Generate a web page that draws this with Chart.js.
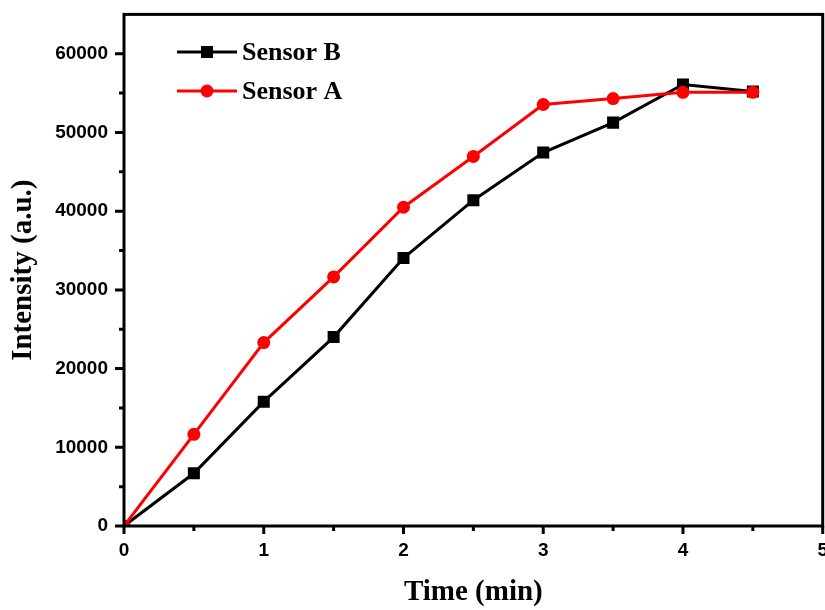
<!DOCTYPE html>
<html>
<head>
<meta charset="utf-8">
<script src="https://cdn.jsdelivr.net/npm/chart.js@4"></script>
<style>
  html, body { margin: 0; padding: 0; background: #fff; overflow: hidden; }
  #wrap { width: 841px; height: 623px; margin-top: -13px; }
</style>
</head>
<body>
<div id="wrap"><canvas id="chart"></canvas></div>
<script>
const times   = [0, 0.5, 1, 1.5, 2, 2.5, 3, 3.5, 4, 4.5];
const sensorB = [0, 6700, 15800, 24000, 34050, 41400, 47450, 51250, 56100, 55200];
const sensorA = [0, 11650, 23300, 31650, 40500, 46950, 53550, 54300, 55100, 55100];
const xTicks  = [0, 1, 2, 3, 4, 5];
const yTicks  = [0, 10000, 20000, 30000, 40000, 50000, 60000];

const pts = (ys) => times.map((t, i) => ({ x: t, y: ys[i] }));

// frame + outward ticks (major/minor)
const framePlugin = {
  id: "frame",
  afterDraw(chart) {
    const { ctx, chartArea: a, scales: { x, y } } = chart;
    ctx.save();
    ctx.strokeStyle = "#000";
    ctx.lineWidth = 3;
    ctx.strokeRect(a.left, a.top, a.right - a.left, a.bottom - a.top);
    ctx.beginPath();
    x.ticks.forEach(t => {
      const px = x.getPixelForValue(t.value);
      const len = xTicks.includes(t.value) ? 8 : 5;
      ctx.moveTo(px, a.bottom); ctx.lineTo(px, a.bottom + len);
    });
    y.ticks.forEach(t => {
      if (t.value > 60000) return;
      const py = y.getPixelForValue(t.value);
      const len = yTicks.includes(t.value) ? 9 : 5;
      ctx.moveTo(a.left, py); ctx.lineTo(a.left - len, py);
    });
    ctx.stroke();
    ctx.restore();
  }
};

// legend inside plot, Origin style (canvas is shifted up 13px)
const legendPlugin = {
  id: "innerLegend",
  afterDraw(chart) {
    const { ctx } = chart;
    const rows = [{ ds: 0, y: 52 + 13 }, { ds: 1, y: 91 + 13 }];
    ctx.save();
    rows.forEach(r => {
      const d = chart.data.datasets[r.ds];
      ctx.strokeStyle = d.borderColor;
      ctx.lineWidth = 3;
      ctx.beginPath(); ctx.moveTo(177, r.y); ctx.lineTo(237, r.y); ctx.stroke();
      ctx.fillStyle = d.pointBackgroundColor;
      Chart.helpers.drawPoint(ctx, { pointStyle: d.pointStyle, radius: d.pointRadius, borderWidth: 0 }, 207, r.y);
      ctx.fillStyle = "#000";
      ctx.font = "bold 26px 'Liberation Serif', 'Times New Roman', serif";
      ctx.textBaseline = "middle";
      ctx.fillText(d.label, 242, r.y + 1);
    });
    ctx.restore();
  }
};

const tickFont = { family: "'Liberation Sans', Arial, sans-serif", size: 19, weight: "bold" };
const titleFont = { family: "'Liberation Serif', 'Times New Roman', serif", size: 29, weight: "bold" };

new Chart(document.getElementById("chart"), {
  type: "line",
  data: {
    datasets: [
      { label: "Sensor B", data: pts(sensorB), borderColor: "#000", backgroundColor: "#000",
        pointBackgroundColor: "#000", pointBorderWidth: 0, pointStyle: "rect", pointRadius: 8.5,
        borderWidth: 3, order: 1 },
      { label: "Sensor A", data: pts(sensorA), borderColor: "#ff0000", backgroundColor: "#ff0000",
        pointBackgroundColor: "#ff0000", pointBorderWidth: 0, pointStyle: "circle", pointRadius: 6.5,
        borderWidth: 3, order: 0 }
    ]
  },
  options: {
    responsive: true,
    maintainAspectRatio: false,
    animation: false,
    layout: { padding: { left: 6, top: 12, right: 0, bottom: 0 } },
    plugins: { legend: { display: false }, tooltip: { enabled: false } },
    scales: {
      x: {
        type: "linear", min: 0, max: 5,
        grid: { display: false, drawTicks: false },
        border: { display: false },
        ticks: { stepSize: 0.5, padding: 13, color: "#000", font: tickFont, maxRotation: 0,
          autoSkip: false, callback: v => xTicks.includes(v) ? String(v) : "" },
        title: { display: true, text: "Time (min)", color: "#000", font: titleFont, padding: { top: 0, bottom: 0 } },
        afterFit: s => { s.height = 84; }
      },
      y: {
        type: "linear", min: 0, max: 65000,
        grid: { display: false, drawTicks: false },
        border: { display: false },
        ticks: { stepSize: 5000, padding: 16, color: "#000", font: tickFont, autoSkip: false,
          callback: v => yTicks.includes(v) ? String(v) : "" },
        title: { display: true, text: "Intensity (a.u.)", color: "#000", font: titleFont, padding: { top: 0, bottom: 0 } },
        afterFit: s => { s.width = 118; }
      }
    }
  },
  plugins: [framePlugin, legendPlugin]
});
</script>
</body>
</html>
